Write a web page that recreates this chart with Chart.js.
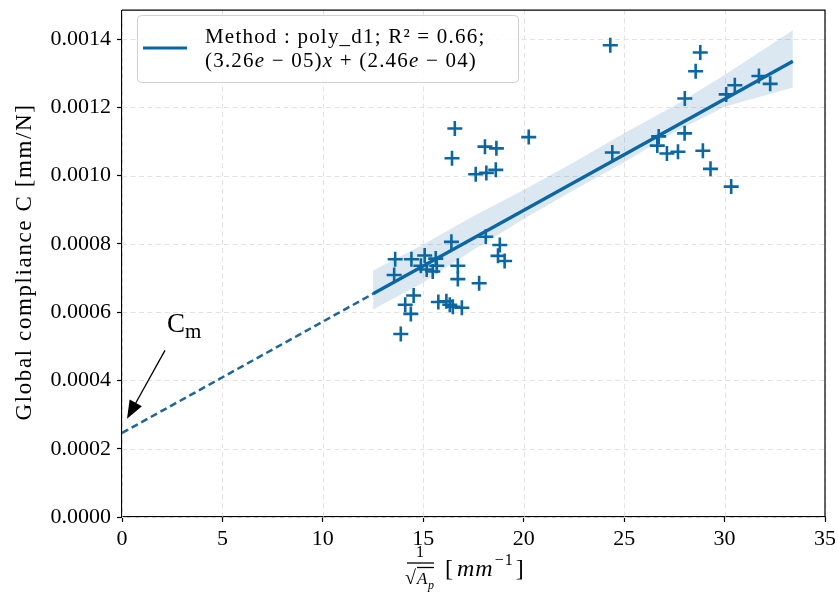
<!DOCTYPE html>
<html>
<head>
<meta charset="utf-8">
<script src="https://cdn.jsdelivr.net/npm/chart.js@4.4.1/dist/chart.umd.min.js"></script>
<style>
  body { margin: 0; background: #fff; }
  #wrap { width: 838px; height: 604px; }
</style>
</head>
<body>
<div id="wrap"><canvas id="chart" width="838" height="604"></canvas></div>
<script>
// measured points (1/sqrt(Ap), compliance)
const pointsX = [24.31, 28.79, 28.56, 28.02, 30.08, 30.51, 31.71, 32.27, 24.41, 26.72,
                 26.65, 27.13, 27.68, 28.01, 28.92, 29.30, 30.33, 16.57, 20.25, 18.07,
                 18.64, 16.43, 17.61, 18.14, 18.61, 16.40, 13.60, 14.41, 15.07, 15.62,
                 14.88, 15.17, 15.47, 15.67, 13.55, 16.72, 16.72, 18.11, 18.81, 18.72,
                 19.05, 17.78, 14.52, 14.10, 14.38, 15.75, 16.15, 16.32, 16.47, 16.92, 13.88];
const pointsY = [0.001382, 0.001361, 0.001306, 0.001226, 0.001238, 0.001265, 0.001292, 0.001269, 0.001068, 0.001115,
                 0.001088, 0.001065, 0.001070, 0.001124, 0.001073, 0.001020, 0.000968, 0.001138, 0.001113, 0.001085,
                 0.001080, 0.001051, 0.001004, 0.001008, 0.001017, 0.000806, 0.000755, 0.000755, 0.000766, 0.000757,
                 0.000736, 0.000725, 0.000719, 0.000736, 0.000709, 0.000736, 0.000697, 0.000821, 0.000797, 0.000765,
                 0.000750, 0.000685, 0.000649, 0.000622, 0.000595, 0.000630, 0.000632, 0.000622, 0.000616, 0.000613, 0.000536];

// regression line: dashed part then solid part
const dashX = [0, 12.5];
const dashY = [0.000246, 0.000654];
const fitX = [12.5, 33.4];
const fitY = [0.000654, 0.001335];

// confidence band
const bandX = [12.5, 15, 17.5, 20, 22.5, 25, 27.5, 30, 33.4];
const bandLow = [0.000608, 0.000687, 0.000783, 0.000873, 0.000958, 0.001039, 0.001127, 0.001202, 0.001258];
const bandHigh = [0.000722, 0.000798, 0.000882, 0.000958, 0.001039, 0.001124, 0.001205, 0.001295, 0.001426];

const xMin = 0, xMax = 35, xStep = 5;
const yMin = 0, yMax = 0.001485, yStep = 0.0002;

const yTitle = 'Global compliance C [mm/N]';
const legendLine1 = [['Method : poly_d1; R² = 0.66;', false]];
const legendLine2 = [['(3.26', false], ['e', true], [' − 05)', false], ['x', true], [' + (2.46', false], ['e', true], [' − 04)', false]];
const annoText = 'C', annoSub = 'm';
const annoTextAt = [2.24, 0.000562];
const arrowFrom = [2.14, 0.000488];
const arrowTo = [0.25, 0.000288];

const BLUE = '#0b67a3';
const SERIF = '"Liberation Serif", "DejaVu Serif", serif';

function pts(xs, ys) { return xs.map((x, i) => ({ x: x, y: ys[i] })); }

function drawRuns(ctx, runs, x, y, size) {
  runs.forEach(([t, it]) => {
    ctx.font = (it ? 'italic ' : '') + size + 'px ' + SERIF;
    ctx.fillText(t, x, y);
    x += ctx.measureText(t).width;
  });
}

const extras = {
  id: 'extras',
  beforeDatasetsDraw(chart) {
    // dashed grid
    const ctx = chart.ctx, a = chart.chartArea;
    ctx.save();
    ctx.strokeStyle = '#e2e2e2'; ctx.lineWidth = 1; ctx.setLineDash([5, 3.5]);
    chart.scales.x.ticks.forEach(t => {
      const p = Math.round(chart.scales.x.getPixelForValue(t.value)) + 0.5;
      ctx.beginPath(); ctx.moveTo(p, a.top); ctx.lineTo(p, a.bottom); ctx.stroke();
    });
    chart.scales.y.ticks.forEach(t => {
      const p = Math.round(chart.scales.y.getPixelForValue(t.value)) + 0.5;
      ctx.beginPath(); ctx.moveTo(a.left, p); ctx.lineTo(a.right, p); ctx.stroke();
    });
    ctx.restore();
  },
  afterDraw(chart) {
    const ctx = chart.ctx, a = chart.chartArea;
    const sx = chart.scales.x, sy = chart.scales.y;
    ctx.save();
    // top & right spines
    ctx.strokeStyle = '#000'; ctx.lineWidth = 1.2;
    ctx.beginPath();
    ctx.moveTo(a.left, a.top); ctx.lineTo(a.right, a.top); ctx.lineTo(a.right, a.bottom);
    ctx.stroke();

    // y axis title
    ctx.save();
    ctx.translate(25, 262); ctx.rotate(-Math.PI / 2);
    ctx.fillStyle = '#000'; ctx.textAlign = 'center'; ctx.textBaseline = 'middle';
    ctx.font = '23px ' + SERIF; ctx.letterSpacing = '1.6px';
    ctx.fillText(yTitle, 0, 0);
    ctx.restore();

    // legend
    ctx.fillStyle = 'rgba(255,255,255,0.85)';
    ctx.strokeStyle = '#d0d0d0'; ctx.lineWidth = 1;
    ctx.beginPath(); ctx.roundRect(137.5, 15.5, 381, 67, 4); ctx.fill(); ctx.stroke();
    ctx.strokeStyle = BLUE; ctx.lineWidth = 3;
    ctx.beginPath(); ctx.moveTo(143, 48); ctx.lineTo(187, 48); ctx.stroke();
    ctx.fillStyle = '#000'; ctx.textBaseline = 'middle'; ctx.textAlign = 'left';
    ctx.letterSpacing = '1.2px';
    drawRuns(ctx, legendLine1, 205, 37, 21);
    drawRuns(ctx, legendLine2, 205, 61, 21);
    ctx.letterSpacing = '0px';

    // x axis title: 1/sqrt(Ap) [mm^-1]
    ctx.textAlign = 'center';
    ctx.font = '16px ' + SERIF;
    ctx.fillText('1', 420, 553);
    ctx.lineWidth = 1.3; ctx.strokeStyle = '#000';
    ctx.beginPath(); ctx.moveTo(407, 563); ctx.lineTo(434, 563); ctx.stroke();
    ctx.textAlign = 'left';
    ctx.font = '20px ' + SERIF;
    ctx.fillText('√', 405, 579);
    ctx.beginPath(); ctx.moveTo(417, 567.5); ctx.lineTo(434, 567.5); ctx.stroke();
    ctx.font = 'italic 17px ' + SERIF;
    ctx.fillText('A', 417, 580);
    ctx.font = 'italic 12px ' + SERIF;
    ctx.fillText('p', 428, 586);
    let x = 445;
    ctx.letterSpacing = '1px';
    ctx.font = '24px ' + SERIF; ctx.fillText('[', x, 570); x += ctx.measureText('[').width + 3;
    ctx.font = 'italic 24px ' + SERIF; ctx.fillText('mm', x, 570); x += ctx.measureText('mm').width + 1;
    ctx.font = '16px ' + SERIF; ctx.fillText('−1', x, 561); x += ctx.measureText('−1').width + 2;
    ctx.font = '24px ' + SERIF; ctx.fillText(']', x, 570);
    ctx.letterSpacing = '0px';

    // annotation C_m with arrow
    const tx = sx.getPixelForValue(annoTextAt[0]), ty = sy.getPixelForValue(annoTextAt[1]);
    ctx.font = '27px ' + SERIF; ctx.fillText(annoText, tx, ty);
    const cw = ctx.measureText(annoText).width;
    ctx.font = '21px ' + SERIF; ctx.fillText(annoSub, tx + cw, ty + 7);
    const x0 = sx.getPixelForValue(arrowFrom[0]), y0 = sy.getPixelForValue(arrowFrom[1]);
    const x1 = sx.getPixelForValue(arrowTo[0]), y1 = sy.getPixelForValue(arrowTo[1]);
    const ang = Math.atan2(y1 - y0, x1 - x0), hl = 18, hw = 7;
    const bx = x1 - hl * Math.cos(ang), by = y1 - hl * Math.sin(ang);
    ctx.strokeStyle = '#000'; ctx.lineWidth = 1.3;
    ctx.beginPath(); ctx.moveTo(x0, y0); ctx.lineTo(bx, by); ctx.stroke();
    ctx.fillStyle = '#000';
    ctx.beginPath();
    ctx.moveTo(x1, y1);
    ctx.lineTo(bx + hw * Math.sin(ang), by - hw * Math.cos(ang));
    ctx.lineTo(bx - hw * Math.sin(ang), by + hw * Math.cos(ang));
    ctx.closePath(); ctx.fill();
    ctx.restore();
  }
};

const gridOpts = {
  drawOnChartArea: false,
  tickColor: '#000', tickLength: 5, tickWidth: 1.2
};

new Chart(document.getElementById('chart'), {
  type: 'scatter',
  data: {
    datasets: [
      { data: pts(pointsX, pointsY), pointStyle: 'cross', pointRadius: 7.5, pointHoverRadius: 7.5,
        borderColor: BLUE, backgroundColor: BLUE, pointBorderWidth: 2.6 },
      { type: 'line', data: pts(fitX, fitY), borderColor: BLUE, borderWidth: 3.4, pointRadius: 0, fill: false },
      { type: 'line', data: pts(dashX, dashY), borderColor: '#1c6698', borderWidth: 2.5, borderDash: [7, 4],
        pointRadius: 0, fill: false },
      { type: 'line', data: pts(bandX, bandLow), borderWidth: 0, borderColor: 'rgba(0,0,0,0)', pointRadius: 0, fill: false },
      { type: 'line', data: pts(bandX, bandHigh), borderWidth: 0, borderColor: 'rgba(0,0,0,0)', pointRadius: 0,
        fill: 3, backgroundColor: 'rgba(11,103,163,0.15)' }
    ]
  },
  options: {
    responsive: false,
    animation: false,
    events: [],
    layout: { padding: { top: 7, right: 13, left: 0, bottom: 0 } },
    plugins: { legend: { display: false }, tooltip: { enabled: false } },
    scales: {
      x: {
        type: 'linear', min: xMin, max: xMax,
        ticks: { stepSize: xStep, color: '#000', padding: 4, font: { family: SERIF, size: 22 } },
        grid: gridOpts,
        border: { color: '#000', width: 1.2 },
        afterFit: s => { s.height = 87; s.paddingLeft = 0; s.paddingRight = 0; }
      },
      y: {
        min: yMin, max: yMax,
        ticks: { stepSize: yStep, includeBounds: false, color: '#000', padding: 6,
                 font: { family: SERIF, size: 22 }, callback: v => v.toFixed(4) },
        grid: gridOpts,
        border: { color: '#000', width: 1.2 },
        afterFit: s => { s.width = 122; s.paddingTop = 0; s.paddingBottom = 0; }
      }
    }
  },
  plugins: [extras]
});
</script>
</body>
</html>
